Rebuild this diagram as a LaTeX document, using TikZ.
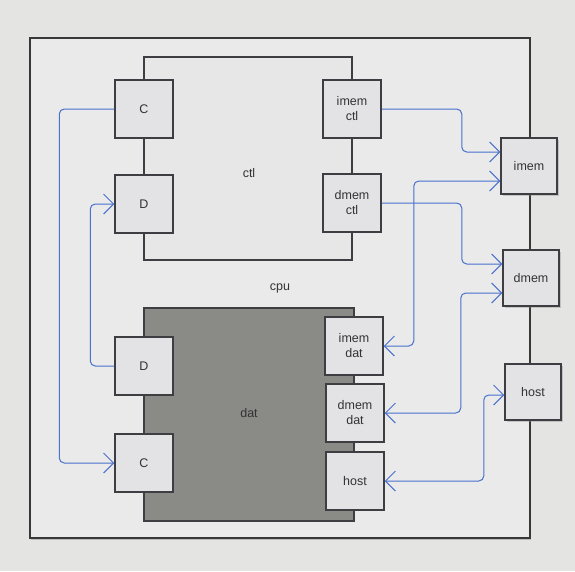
\documentclass[tikz,border=0pt]{standalone}
\usepackage{fontspec}
\setmainfont{Liberation Sans}
\usetikzlibrary{arrows.meta,calc,shadows}
\definecolor{pagebg}{RGB}{228,228,227}
\definecolor{cpufill}{RGB}{234,234,234}
\definecolor{ctlfill}{RGB}{231,231,231}
\definecolor{boxfill}{RGB}{227,227,230}
\definecolor{datfill}{RGB}{138,138,134}
\definecolor{edge}{RGB}{62,62,66}
\definecolor{pen}{RGB}{72,112,205}
\tikzset{
  unit/.style={draw=edge, line width=1.5pt, fill=boxfill, minimum width=58pt, minimum height=58pt, inner sep=0pt, align=center, font=\fontsize{12.5}{15}\selectfont, text=black!80},
  extunit/.style={unit, minimum width=56pt, minimum height=56pt, drop shadow={opacity=0.35, shadow xshift=1.5pt, shadow yshift=-1.5pt}},
  region/.style={draw=edge, line width=1.5pt},
  lbl/.style={font=\fontsize{12.5}{15}\selectfont, text=black!80},
  wire/.style={draw=pen, line width=1pt, rounded corners=5pt},
  tip/.style={-{Straight Barb[length=10pt,width=20pt,line width=1pt]}},
  bitip/.style={{Straight Barb[length=10pt,width=20pt,line width=1pt]}-{Straight Barb[length=10pt,width=20pt,line width=1pt]}}
}
\begin{document}
\begin{tikzpicture}[x=1pt,y=-1pt]
\fill[pagebg] (0,0) rectangle (575,571);
\useasboundingbox (0,0) rectangle (575,571);
% cpu
\filldraw[region, fill=cpufill, draw=edge!90!black, drop shadow={opacity=0.4, shadow xshift=1pt, shadow yshift=-2pt}] (30,38) rectangle (530,538);
\node[lbl] (cpulbl) at (280,288) {cpu};
% ctl
\filldraw[region, fill=ctlfill] (144,57) rectangle (352,260);
\node[lbl] (ctllbl) at (249,173) {ctl};
% dat
\filldraw[region, fill=datfill] (144,308) rectangle (354,521);
\node[lbl] (datlbl) at (249,413) {dat};
% units
\node[unit] (cC) at (144,109) {C};
\node[unit] (cD) at (144,204) {D};
\node[unit] (imemctl) at (352,109) {imem\\ctl};
\node[unit] (dmemctl) at (352,203) {dmem\\ctl};
\node[unit] (dD) at (144,366) {D};
\node[unit] (dC) at (144,463) {C};
\node[unit] (imemdat) at (354,346) {imem\\dat};
\node[unit] (dmemdat) at (355,413) {dmem\\dat};
\node[unit] (hostdat) at (355,481) {host};
% external
\node[extunit] (imem) at (529,166) {imem};
\node[extunit] (dmem) at (531,278) {dmem};
\node[extunit] (host) at (533,392) {host};
\coordinate (imemA) at ($(imem.west)+(0,-14)$);
\coordinate (imemB) at ($(imem.west)+(0,15)$);
\coordinate (dmemA) at ($(dmem.west)+(0,-14)$);
\coordinate (dmemB) at ($(dmem.west)+(0,15)$);
\coordinate (hostA) at ($(host.west)+(0,3)$);
% wires
\draw[wire, tip] (cC.west) -- ++(-55,0) |- (dC.west);
\draw[wire, tip] (dD.west) -- ++(-24,0) |- (cD.west);
\draw[wire, tip] (imemctl.east) -- ++(80,0) |- (imemA);
\draw[wire, bitip] (imemdat.east) -- ++(30,0) |- (imemB);
\draw[wire, tip] (dmemctl.east) -- ++(80,0) |- (dmemA);
\draw[wire, bitip] (dmemdat.east) -- ++(76,0) |- (dmemB);
\draw[wire, bitip] (hostdat.east) -- ++(99,0) |- (hostA);
\end{tikzpicture}
\end{document}
